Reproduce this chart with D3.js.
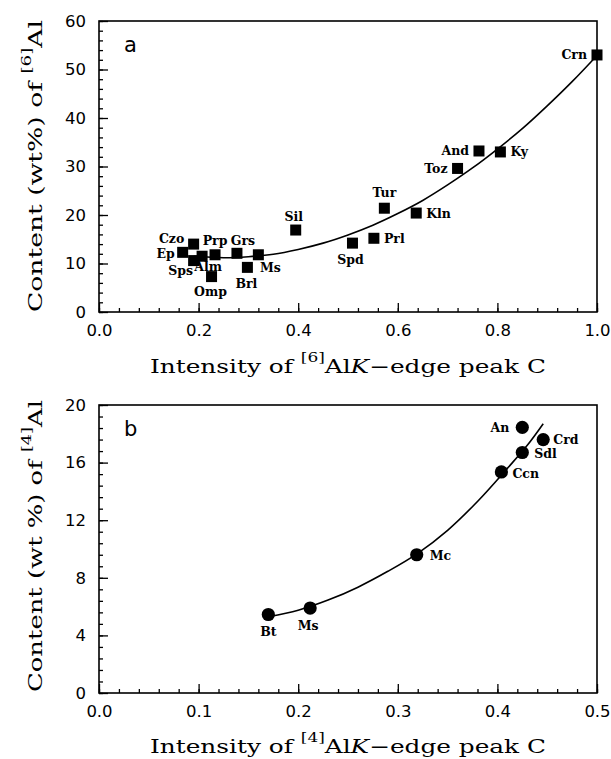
<!DOCTYPE html>
<html><head><meta charset="utf-8">
<script src="https://cdn.jsdelivr.net/npm/d3@7"></script>
<style>body{margin:0;background:#fff}svg{display:block}</style>
</head><body><svg id="c" width="611" height="759"></svg>
<script>
// ---------- Panel a data ----------
const mineralsA  = ["Crn","Ky","And","Toz","Tur","Kln","Prl","Spd","Sil","Ms","Brl","Grs","Prp","Alm","Czo","Ep","Sps","Omp"];
const intensityA = [1.000,0.806,0.763,0.720,0.573,0.637,0.552,0.509,0.395,0.320,0.298,0.277,0.233,0.207,0.190,0.168,0.190,0.226];
const contentA   = [53.0,33.0,33.2,29.6,21.4,20.4,15.2,14.2,16.9,11.8,9.2,12.1,11.8,11.5,14.0,12.3,10.6,7.3];
const fitAx = [0.19,0.25,0.30,0.35,0.40,0.45,0.50,0.55,0.60,0.65,0.70,0.75,0.80,0.85,0.90,0.95,1.00];
const fitAy = [11.5,11.2,11.4,11.9,12.9,14.2,15.9,17.9,20.3,23.0,26.2,29.7,33.6,37.8,42.5,47.5,52.9];
const xTicksA = [0,0.2,0.4,0.6,0.8,1.0];
const xTickLabelsA = ["0.0","0.2","0.4","0.6","0.8","1.0"];
const yTicksA = [0,10,20,30,40,50,60];
const yTickLabelsA = ["0","10","20","30","40","50","60"];

// ---------- Panel b data ----------
const mineralsB  = ["Bt","Ms","Mc","Ccn","Sdl","An","Crd"];
const intensityB = [0.170,0.212,0.319,0.404,0.425,0.425,0.446];
const contentB   = [5.45,5.9,9.6,15.35,16.7,18.45,17.6];
const fitBx = [0.170,0.200,0.230,0.260,0.290,0.320,0.350,0.380,0.410,0.430,0.446];
const fitBy = [5.3,5.75,6.45,7.35,8.45,9.7,11.3,13.3,15.6,17.2,18.7];
const xTicksB = [0,0.1,0.2,0.3,0.4,0.5];
const xTickLabelsB = ["0.0","0.1","0.2","0.3","0.4","0.5"];
const yTicksB = [0,4,8,12,16,20];
const yTickLabelsB = ["0","4","8","12","16","20"];

// ---------- label placement (layout) ----------
const labelPosA = {
  Crn:[-10,0,"end"], Ky:[10,0,"start"], And:[-10,0,"end"], Toz:[-10,0,"end"],
  Tur:[0,-16,"middle"], Kln:[10,0,"start"], Prl:[10,0,"start"], Spd:[-2,16,"middle"],
  Sil:[-2,-14,"middle"], Ms:[12,13,"middle"], Brl:[-1,16,"middle"], Grs:[6,-13,"middle"],
  Prp:[0,-14,"middle"], Alm:[6,10,"middle"], Czo:[-22,-6,"middle"], Ep:[-8,1,"end"],
  Sps:[-13,10,"middle"], Omp:[-1,15,"middle"]
};
const labelPosB = {
  Bt:[0,17,"middle"], Ms:[-2,17,"middle"], Mc:[13,1,"start"], Ccn:[11,2,"start"],
  Sdl:[12,1,"start"], An:[-13,0,"end"], Crd:[10,0,"start"]
};

const svg = d3.select("#c");
svg.append("rect").attr("width",611).attr("height",759).attr("fill","#fff");

const L = 99, R = 597;

function panel(cfg){
  const g = svg.append("g");
  const x = d3.scaleLinear().domain(cfg.xDomain).range([L,R]);
  const y = d3.scaleLinear().domain(cfg.yDomain).range([cfg.bottom,cfg.top]);

  // minor ticks
  g.append("g").attr("transform",`translate(0,${cfg.bottom})`)
    .call(d3.axisBottom(x).tickValues(cfg.xMinor).tickSize(-4).tickFormat(""))
    .call(a=>a.select(".domain").remove());
  g.append("g").attr("transform",`translate(${L},0)`)
    .call(d3.axisLeft(y).tickValues(cfg.yMinor).tickSize(-4).tickFormat(""))
    .call(a=>a.select(".domain").remove());
  // major ticks
  g.append("g").attr("transform",`translate(0,${cfg.bottom})`)
    .call(d3.axisBottom(x).tickValues(cfg.xTicks).tickSize(-9).tickPadding(12)
      .tickFormat((d,i)=>cfg.xLabels[i]))
    .call(a=>a.select(".domain").remove())
    .call(a=>a.selectAll("text").attr("font-family","DejaVu Sans").attr("font-size",16.5).attr("fill","#000"));
  g.append("g").attr("transform",`translate(${L},0)`)
    .call(d3.axisLeft(y).tickValues(cfg.yTicks).tickSize(-9).tickPadding(13)
      .tickFormat((d,i)=>cfg.yLabels[i]))
    .call(a=>a.select(".domain").remove())
    .call(a=>a.selectAll("text").attr("font-family","DejaVu Sans").attr("font-size",16.5).attr("fill","#000"));
  g.selectAll(".tick line").attr("stroke","#000").attr("stroke-width",1.3);

  // frame
  g.append("rect").attr("x",L).attr("y",cfg.top).attr("width",R-L).attr("height",cfg.bottom-cfg.top)
    .attr("fill","none").attr("stroke","#000").attr("stroke-width",1.6);

  // fit curve
  const pts = cfg.fitX.map((v,i)=>[v,cfg.fitY[i]]);
  g.append("path").datum(pts)
    .attr("d", d3.line().x(d=>x(d[0])).y(d=>y(d[1])).curve(d3.curveCatmullRom))
    .attr("fill","none").attr("stroke","#000").attr("stroke-width",1.6);

  // markers
  const data = cfg.names.map((n,i)=>({n, x:cfg.xs[i], y:cfg.ys[i]}));
  if (cfg.marker==="square"){
    g.selectAll("rect.m").data(data).join("rect").attr("class","m")
      .attr("x",d=>x(d.x)-5.5).attr("y",d=>y(d.y)-5.5).attr("width",11).attr("height",11).attr("fill","#000");
  } else {
    g.selectAll("circle.m").data(data).join("circle").attr("class","m")
      .attr("cx",d=>x(d.x)).attr("cy",d=>y(d.y)).attr("r",6.6).attr("fill","#000");
  }
  // labels
  g.selectAll("text.lab").data(data).join("text").attr("class","lab")
    .attr("x",d=>x(d.x)+cfg.labelPos[d.n][0]).attr("y",d=>y(d.y)+cfg.labelPos[d.n][1])
    .attr("dy","0.36em").attr("text-anchor",d=>cfg.labelPos[d.n][2])
    .attr("font-family","DejaVu Serif").attr("font-weight","bold").attr("font-size",12.5)
    .attr("fill","#000").text(d=>d.n);

  // panel letter
  g.append("text").attr("x",124).attr("y",cfg.top+31).attr("font-family","DejaVu Sans")
    .attr("font-size",21).attr("fill","#000").text(cfg.letter);

  // x title
  const xt = g.append("text").attr("x",(L+R)/2).attr("y",cfg.xTitleY).attr("text-anchor","middle")
    .attr("font-family","DejaVu Serif").attr("font-size",19).attr("fill","#000")
    .attr("textLength",cfg.xTitleLen).attr("lengthAdjust","spacingAndGlyphs");
  xt.append("tspan").text("Intensity of ");
  xt.append("tspan").attr("font-size",13).attr("dy",-11).text(cfg.sup);
  xt.append("tspan").attr("dy",11).text("Al");
  xt.append("tspan").attr("font-style","italic").text("K");
  xt.append("tspan").text("\u2212edge peak C");

  // y title
  const cy = cfg.yTitleC;
  const yt = g.append("text").attr("transform",`translate(42,${cy}) rotate(-90)`)
    .attr("text-anchor","middle").attr("font-family","DejaVu Serif").attr("font-size",19).attr("fill","#000")
    .attr("textLength",cfg.yTitleLen).attr("lengthAdjust","spacingAndGlyphs");
  yt.append("tspan").text(cfg.yTitleText);
  yt.append("tspan").attr("font-size",13).attr("dy",-11).text(cfg.sup);
  yt.append("tspan").attr("dy",11).text("Al");
}

panel({
  xDomain:[0,1], yDomain:[0,60], top:21, bottom:312,
  xTicks:xTicksA, xLabels:xTickLabelsA, yTicks:yTicksA, yLabels:yTickLabelsA,
  xMinor:d3.range(0,1.0001,0.04), yMinor:d3.range(0,60.001,2),
  fitX:fitAx, fitY:fitAy, names:mineralsA, xs:intensityA, ys:contentA,
  marker:"square", labelPos:labelPosA, letter:"a", sup:"[6]",
  xTitleY:373, xTitleLen:396, yTitleC:166, yTitleLen:292, yTitleText:"Content (wt%) of "
});
panel({
  xDomain:[0,0.5], yDomain:[0,20], top:405, bottom:693,
  xTicks:xTicksB, xLabels:xTickLabelsB, yTicks:yTicksB, yLabels:yTickLabelsB,
  xMinor:d3.range(0,0.5001,0.02), yMinor:d3.range(0,20.001,0.8),
  fitX:fitBx, fitY:fitBy, names:mineralsB, xs:intensityB, ys:contentB,
  marker:"circle", labelPos:labelPosB, letter:"b", sup:"[4]",
  xTitleY:753, xTitleLen:396, yTitleC:546, yTitleLen:292, yTitleText:"Content (wt %) of "
});
</script></body></html>
